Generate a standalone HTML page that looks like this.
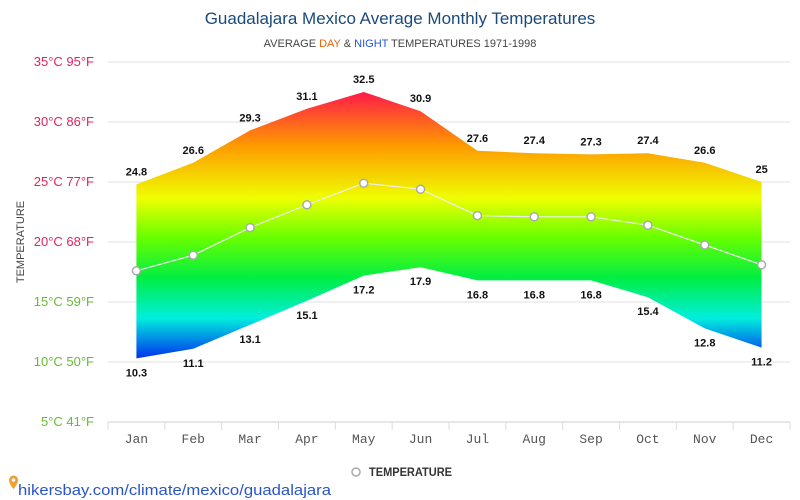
<!DOCTYPE html>
<html><head><meta charset="utf-8">
<style>
body{margin:0;background:#fff;font-family:"Liberation Sans",sans-serif;}
svg{display:block}
</style></head>
<body>
<svg id="chart" width="800" height="500">
<defs>
<linearGradient id="grad" gradientUnits="userSpaceOnUse" x1="0" y1="92" x2="0" y2="358">
<stop offset="0" stop-color="#ff1a4a"/>
<stop offset="0.2" stop-color="#ff9900"/>
<stop offset="0.4" stop-color="#eeff00"/>
<stop offset="0.55" stop-color="#66ff00"/>
<stop offset="0.7" stop-color="#00ee44"/>
<stop offset="0.85" stop-color="#00eedd"/>
<stop offset="1" stop-color="#0033ee"/>
</linearGradient>
</defs>
<text x="400" y="24" text-anchor="middle" font-size="17" fill="#1a4a7a">Guadalajara Mexico Average Monthly Temperatures</text>
<text x="400" y="47" text-anchor="middle" font-size="11" fill="#444">AVERAGE <tspan fill="#e8650a">DAY</tspan> &amp; <tspan fill="#2255dd">NIGHT</tspan> TEMPERATURES 1971-1998</text>
<text transform="translate(24,242) rotate(-90)" text-anchor="middle" font-size="11" fill="#444">TEMPERATURE</text>
<g id="grid"></g>
<g id="marks"></g>
<g id="xlabels"></g>
<g>
<circle cx="356" cy="472" r="4" fill="#fff" stroke="#aaa" stroke-width="1.5"/>
<text x="369" y="476" font-size="12" font-weight="bold" fill="#333" textLength="83" lengthAdjust="spacingAndGlyphs">TEMPERATURE</text>
</g>
<text x="18" y="495" font-size="15" fill="#2a55c8" textLength="313" lengthAdjust="spacingAndGlyphs">hikersbay.com/climate/mexico/guadalajara</text>
<path d="M9 480 a4.5 4.5 0 1 1 9 0 c0 4 -4.5 9 -4.5 9 s-4.5 -5 -4.5 -9z" fill="#f0a030"/>
<circle cx="13.5" cy="480" r="1.8" fill="#fff"/>
</svg>
<script>
const months=["Jan","Feb","Mar","Apr","May","Jun","Jul","Aug","Sep","Oct","Nov","Dec"];
const dayTemps=[24.8,26.6,29.3,31.1,32.5,30.9,27.6,27.4,27.3,27.4,26.6,25];
const nightTemps=[10.3,11.1,13.1,15.1,17.2,17.9,16.8,16.8,16.8,15.4,12.8,11.2];
const avgTemps=[17.6,18.9,21.2,23.1,24.9,24.4,22.2,22.1,22.1,21.4,19.75,18.1];
const yTicks=[5,10,15,20,25,30,35];
const NS="http://www.w3.org/2000/svg";
const x0=108,x1=790,yTop=62,yBot=422,vMin=5,vMax=35;
const bw=(x1-x0)/months.length;
const xs=i=>x0+bw*(i+0.5);
const ys=v=>yBot-(v-vMin)/(vMax-vMin)*(yBot-yTop);
function mk(tag,attrs,parent,text){const e=document.createElementNS(NS,tag);for(const k in attrs)e.setAttribute(k,attrs[k]);if(text!==undefined)e.textContent=text;parent.appendChild(e);return e;}
const grid=document.getElementById('grid'),marks=document.getElementById('marks'),xl=document.getElementById('xlabels');
yTicks.forEach(t=>{
  const y=ys(t);
  const l=mk('line',{x1:x0,x2:x1,y1:y,y2:y,stroke:t===vMin?'#ccc':'#e2e2e2','stroke-width':1},grid);
  
  
  const f=Math.round(t*9/5+32);
  const tx=mk('text',{x:94,y:y+4,'text-anchor':'end','font-size':13,fill:t>=20?'#e0245e':'#66bb33'},grid,t+'°C '+f+'°F');
  
  
});
for(let i=0;i<=months.length;i++){
  const x=x0+bw*i;
  const l=mk('line',{x1:x,x2:x,y1:yBot,y2:yBot+8,stroke:'#ddd'},grid);
  
  
}
let d='';
dayTemps.forEach((v,i)=>{d+=(i?'L':'M')+xs(i)+' '+ys(v);});
for(let i=nightTemps.length-1;i>=0;i--)d+='L'+xs(i)+' '+ys(nightTemps[i]);
const area=mk('path',{d:d+'Z',fill:'url(#grad)'},marks);


const line=mk('polyline',{points:avgTemps.map((v,i)=>xs(i)+','+ys(v)).join(' '),fill:'none',stroke:'#eee','stroke-width':1.2},marks);


avgTemps.forEach((v,i)=>{
  const c=mk('circle',{cx:xs(i),cy:ys(v),r:4,fill:'#fff',stroke:'#aaa','stroke-width':1.5},marks);
  
  
});
dayTemps.forEach((v,i)=>{
  const t=mk('text',{x:xs(i),y:ys(v)-9,'text-anchor':'middle','font-size':11,'font-weight':'bold',fill:'#111'},marks,String(v));
  
  
});
nightTemps.forEach((v,i)=>{
  const t=mk('text',{x:xs(i),y:ys(v)+18,'text-anchor':'middle','font-size':11,'font-weight':'bold',fill:'#111'},marks,String(v));
  
  
});
months.forEach((m,i)=>{
  const t=mk('text',{x:xs(i),y:443,'text-anchor':'middle','font-size':13,fill:'#555','font-family':'Liberation Mono, monospace'},xl,m);
  
  
});
</script>
</body></html>
